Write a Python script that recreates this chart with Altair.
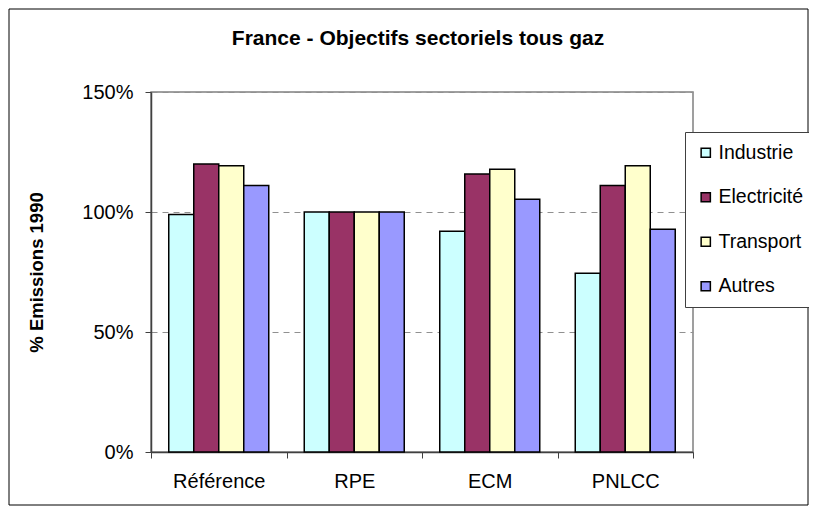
import altair as alt
import pandas as pd

scenarios = ["Référence", "RPE", "ECM", "PNLCC"]
sectors = ["Industrie", "Electricité", "Transport", "Autres"]
colors = ["#CCFFFF", "#993366", "#FFFFCC", "#9999FF"]

industrie = [0.99, 1.00, 0.92, 0.745]
electricite = [1.20, 1.00, 1.158, 1.11]
transport = [1.193, 1.00, 1.178, 1.193]
autres = [1.11, 1.00, 1.053, 0.928]

series = [industrie, electricite, transport, autres]
rows = []
for sec, vals in zip(sectors, series):
    for sc, v in zip(scenarios, vals):
        rows.append({"Scénario": sc, "Secteur": sec, "Valeur": v})
df = pd.DataFrame(rows)

W, H = 542, 360
FONT = "Liberation Sans"

bars = alt.Chart(df).mark_bar(stroke="black", strokeWidth=1.5).encode(
    x=alt.X("Scénario:N", sort=scenarios,
            scale=alt.Scale(paddingInner=0, paddingOuter=0),
            axis=alt.Axis(title=None, labelAngle=0, labelFontSize=20, labelFont=FONT,
                          labelColor="black", labelPadding=13, tickBand="extent",
                          tickSize=6, tickColor="#404040", domainColor="#404040",
                          domainWidth=1.5)),
    xOffset=alt.XOffset("Secteur:N", sort=sectors,
                        scale=alt.Scale(paddingInner=0, paddingOuter=0.71)),
    y=alt.Y("Valeur:Q",
            scale=alt.Scale(domain=[0, 1.5]),
            axis=alt.Axis(title="% Emissions 1990", values=[0, 0.5, 1.0, 1.5], format=".0%",
                          labelFontSize=20, labelFont=FONT, labelColor="black",
                          labelPadding=12, tickSize=6, tickColor="#404040",
                          domainColor="#404040", domainWidth=1.5,
                          grid=True, gridDash=[6, 5], gridColor="#909090", gridWidth=1,
                          titleFontSize=18.5, titleFont=FONT, titleFontWeight="bold",
                          titleColor="black", titlePadding=35)),
    color=alt.Color("Secteur:N", sort=sectors,
                    scale=alt.Scale(domain=sectors, range=colors),
                    legend=alt.Legend(title=None, orient="none", legendX=534, legendY=40,
                                      symbolType="square", symbolSize=85,
                                      symbolStrokeColor="black", symbolStrokeWidth=1.5,
                                      labelFontSize=19.5, labelFont=FONT, labelColor="black",
                                      labelOffset=3, rowPadding=23.5,
                                      padding=11, strokeColor="#404040", fillColor="white",
                                      labelLimit=400)),
)

frame = alt.Chart(pd.DataFrame({"a": [0]})).mark_rect(
    fill=None, stroke="black", strokeWidth=1
).encode(
    x=alt.value(-142), x2=alt.value(W + 115),
    y=alt.value(-83), y2=alt.value(H + 53),
)

chart = alt.layer(frame, bars).properties(
    width=W, height=H,
    padding={"left": 143, "top": 84, "right": 116, "bottom": 54},
    autosize=alt.AutoSizeParams(type="none"),
    title=alt.TitleParams("France - Objectifs sectoriels tous gaz", fontSize=21,
                          font=FONT, fontWeight="bold", color="black",
                          anchor="middle", frame="group", offset=-40, dx=-4),
).configure_view(stroke="#808080", strokeWidth=1.5)

chart.save("out.html", embed_options={"renderer": "svg", "actions": False})
